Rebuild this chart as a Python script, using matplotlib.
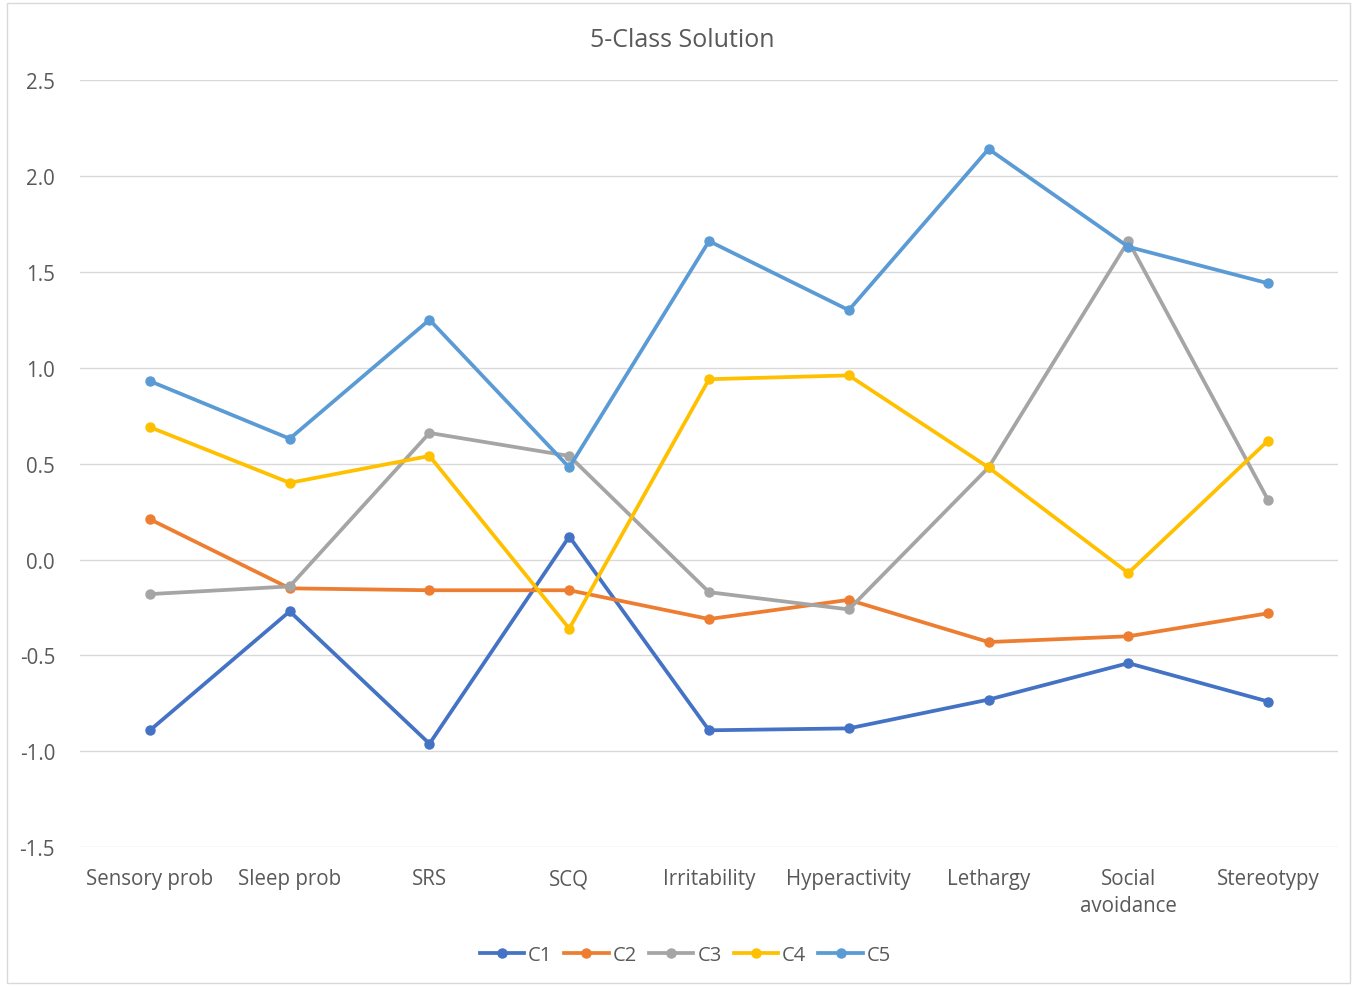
import matplotlib.pyplot as plt
from matplotlib.patches import Rectangle

categories = ["Sensory prob", "Sleep prob", "SRS", "SCQ", "Irritability",
              "Hyperactivity", "Lethargy", "Social\navoidance", "Stereotypy"]
c1 = [-0.89, -0.27, -0.96, 0.12, -0.89, -0.88, -0.73, -0.54, -0.74]
c2 = [0.21, -0.15, -0.16, -0.16, -0.31, -0.21, -0.43, -0.40, -0.28]
c3 = [-0.18, -0.14, 0.66, 0.54, -0.17, -0.26, 0.48, 1.66, 0.31]
c4 = [0.69, 0.40, 0.54, -0.36, 0.94, 0.96, 0.48, -0.07, 0.62]
c5 = [0.93, 0.63, 1.25, 0.48, 1.66, 1.30, 2.14, 1.63, 1.44]
series = {"C1": c1, "C2": c2, "C3": c3, "C4": c4, "C5": c5}
colors = {"C1": "#4472C4", "C2": "#ED7D31", "C3": "#A5A5A5",
          "C4": "#FFC000", "C5": "#5B9BD5"}
yticks = [-1.5, -1.0, -0.5, 0.0, 0.5, 1.0, 1.5, 2.0, 2.5]

plt.rcParams['font.family'] = ['Open Sans', 'DejaVu Sans']
text_color = "#595959"

fig = plt.figure(figsize=(13.57, 9.87), dpi=100)
fig.patches.append(Rectangle((0.005, 0.003), 0.99, 0.993, transform=fig.transFigure,
                             fill=False, edgecolor="#D9D9D9", linewidth=1))
ax = fig.add_axes([0.059, 0.1405, 0.927, 0.7775])

x = range(len(categories))
for name, vals in series.items():
    ax.plot(x, vals, color=colors[name], linewidth=2.7, marker="o",
            markersize=6.5, label=name)

ax.set_xlim(-0.5, len(categories) - 0.5)
ax.set_ylim(-1.5, 2.5)
ax.set_yticks(yticks)
ax.set_yticklabels([f"{v:.1f}" for v in yticks])
ax.set_xticks(list(x))
ax.set_xticklabels(categories, linespacing=1.35)
ax.grid(axis="y", color="#D9D9D9", linewidth=1)
ax.set_axisbelow(True)
for s in ax.spines.values():
    s.set_visible(False)
ax.tick_params(axis="both", length=0, labelsize=14.8, colors=text_color)
ax.tick_params(axis="x", pad=15)
ax.tick_params(axis="y", pad=18)

fig.text(0.503, 0.959, "5-Class Solution", ha="center", va="center",
         fontsize=18, color=text_color)
fig.legend(loc="center", bbox_to_anchor=(0.505, 0.031), ncol=5, frameon=False,
           fontsize=14.5, handlelength=2.2, handletextpad=0.2, columnspacing=0.6,
           labelcolor=text_color)

fig.savefig("out.png", dpi=100)
